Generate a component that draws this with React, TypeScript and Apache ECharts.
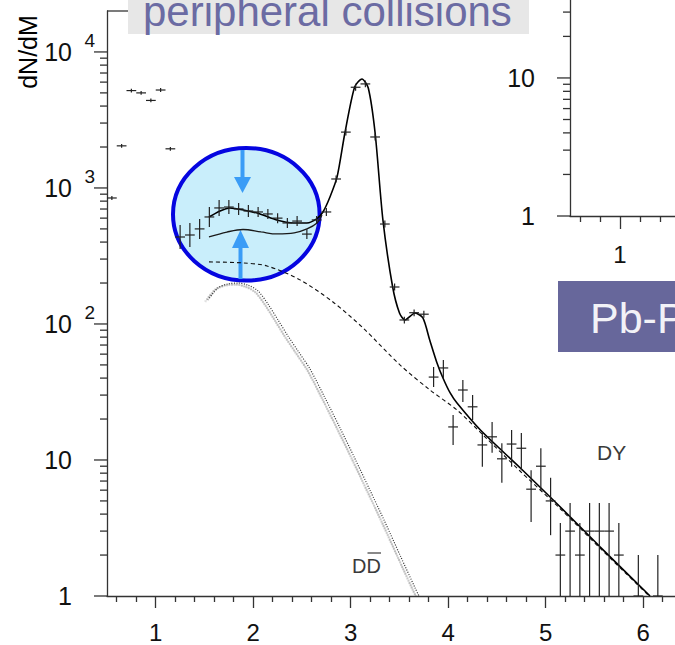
import React, { useEffect, useRef } from 'react';
import * as echarts from 'echarts';

// ---------- tick values ----------
const xMajorTicks = [1, 2, 3, 4, 5, 6];
const xMinorTicks = [0.6, 0.8, 1.2, 1.4, 1.6, 1.8, 2.2, 2.4, 2.6, 2.8, 3.2, 3.4, 3.6, 3.8, 4.2, 4.4, 4.6, 4.8, 5.2, 5.4, 5.6, 5.8, 6.2];
const yMajorTicks = [1, 10, 100, 1000, 10000];
const yMinorTicks = [2, 3, 4, 5, 6, 7, 8, 9, 20, 30, 40, 50, 60, 70, 80, 90, 200, 300, 400, 500, 600, 700, 800, 900, 2000, 3000, 4000, 5000, 6000, 7000, 8000, 9000];
const insetXMajor = [1];
const insetXMinor = [0.6, 0.8, 1.2, 1.4];
const insetYMajor = [1, 10];
const insetYMinor = [2, 3, 4, 5, 6, 7, 8, 9, 20, 30];

// ---------- measured spectrum (mass in GeV, counts with error limits) ----------
const massX = [0.55, 0.65, 0.75, 0.85, 0.95, 1.05, 1.15,
  1.25, 1.35, 1.45, 1.55, 1.65, 1.75, 1.85, 1.95, 2.05, 2.15, 2.25, 2.35, 2.45, 2.55, 2.65, 2.75,
  2.85, 2.95, 3.05, 3.15, 3.25, 3.35, 3.45, 3.55, 3.65, 3.75,
  3.85, 3.95, 4.05, 4.15, 4.25, 4.35, 4.45, 4.55, 4.65, 4.75, 4.85, 4.95, 5.05,
  5.15, 5.25, 5.35, 5.45, 5.55, 5.65, 5.75, 5.95, 6.15];
const counts = [844, 2040, 5200, 5000, 4400, 5250, 1940,
  436, 451, 500, 612, 713, 724, 701, 677, 666, 644, 600, 553, 571, 458, 582, 666,
  1164, 2574, 5500, 5820, 2370, 543, 187, 107, 121, 118,
  40.7, 47.5, 17.5, 32.7, 24.6, 12.9, 14.8, 10.2, 13.1, 12.2, 6.1, 9.0, 5.0,
  2.0, 3.0, 2.0, 3.0, 3.0, 3.0, 2.0, 1.0, 1.0];
const errLow = [815, 1975, 5030, 4840, 4260, 5080, 1880,
  356, 368, 422, 516, 623, 643, 633, 612, 612, 592, 551, 508, 525, 421, 544, 622,
  1098, 2428, 5190, 5490, 2236, 512, 176, 101, 114, 111,
  34.4, 40.1, 12.9, 26.7, 19.7, 8.9, 11.3, 6.8, 8.9, 8.4, 3.5, 6.0, 2.8,
  0.5, 0.5, 0.5, 0.5, 0.5, 0.5, 0.5, 0.5, 0.5];
const errHigh = [873, 2105, 5370, 5160, 4540, 5420, 2000,
  534, 552, 592, 725, 816, 815, 776, 749, 725, 700, 653, 602, 621, 498, 623, 713,
  1234, 2728, 5830, 6170, 2512, 576, 198, 113, 128, 125,
  48.3, 54.4, 21.4, 38.7, 30.0, 16.1, 19.0, 13.3, 16.6, 15.8, 8.4, 12.2, 7.4,
  3.44, 4.83, 3.44, 4.83, 4.83, 4.83, 3.44, 2.0, 2.0];
const binHalfWidth = 0.05;

// ---------- fitted curves ----------
const fitX = [1.546, 1.66, 1.76, 1.9, 2.07, 2.24, 2.41, 2.55, 2.65, 2.715, 2.787, 2.86, 2.94, 3.04, 3.115, 3.18, 3.25, 3.33, 3.43, 3.5, 3.556, 3.66, 3.74, 3.81, 3.885, 3.946, 4.02, 4.09, 4.33, 4.74, 5.15, 5.56, 6.07];
const fitY = [612, 678, 713, 689, 644, 582, 553, 553, 592, 666, 859, 1205, 2535, 5530, 6330, 5430, 2535, 582, 187, 120.5, 107, 120.5, 110.7, 76.3, 51.7, 40.1, 31.1, 26.2, 16.6, 8.73, 4.51, 2.29, 1.0];
const lowerFitX = [1.546, 1.73, 1.895, 2.08, 2.244, 2.42, 2.551, 2.654, 2.705];
const lowerFitY = [436, 474, 495, 475, 459, 467, 500, 553, 633];
const dyX = [1.546, 1.895, 2.141, 2.479, 2.818, 3.126, 3.505, 3.813, 4.09, 4.356, 4.736, 5.146, 5.556, 6.06];
const dyY = [286, 281, 267, 211, 145, 93.5, 50, 32.7, 23.3, 15.3, 8.3, 4.4, 2.25, 1.0];
const ddX = [1.536, 1.638, 1.741, 1.844, 1.946, 2.049, 2.151, 2.254, 2.356, 2.459, 2.582, 2.736, 2.89, 3.044, 3.197, 3.351, 3.505, 3.659, 3.70];
const ddY = [150, 184, 197, 200, 193, 175, 140, 107, 81.6, 63.3, 46.7, 28.6, 17.2, 10.2, 6.0, 3.5, 2.0, 1.15, 1.0];

const FONT = 'Liberation Sans';
const AX = { color: '#333', width: 1.3 };

function pairs(xs: number[], ys: number[]) {
  return xs.map((x, i) => [x, ys[i]]);
}

function tickSeries(values: number[], xAt: number, len: number, xi: number, yi: number) {
  return {
    type: 'custom',
    xAxisIndex: xi,
    yAxisIndex: yi,
    clip: false,
    silent: true,
    z: 5,
    data: values.map((v) => [xAt, v]),
    encode: { x: 0, y: 1 },
    renderItem: (params: any, api: any) => {
      const p = api.coord([api.value(0), api.value(1)]);
      return {
        type: 'line',
        shape: { x1: p[0] - len, y1: p[1], x2: p[0], y2: p[1] },
        style: { stroke: AX.color, lineWidth: AX.width },
      };
    },
  };
}

function buildOption(): any {
  const errData = massX.map((x, i) => [x, counts[i], errLow[i], errHigh[i]]);
  return {
    animation: false,
    textStyle: { fontFamily: FONT },
    grid: [
      { left: 107, top: 11, width: 568, height: 585 },
      { left: 570, top: 0, width: 105, height: 216 },
    ],
    xAxis: [
      {
        gridIndex: 0, type: 'value', min: 0.5, max: 6.326,
        axisLine: { show: true, onZero: false, lineStyle: AX },
        axisTick: { show: true, customValues: xMajorTicks, length: 12, lineStyle: AX },
        axisLabel: { customValues: xMajorTicks, margin: 24, fontSize: 24, color: '#111', fontFamily: FONT },
        splitLine: { show: false },
      },
      {
        gridIndex: 0, type: 'value', position: 'bottom', min: 0.5, max: 6.326,
        axisLine: { show: false, onZero: false },
        axisTick: { show: true, customValues: xMinorTicks, length: 6, lineStyle: AX },
        axisLabel: { show: false },
        splitLine: { show: false },
      },
      {
        gridIndex: 1, type: 'value', min: 0.5, max: 1.55,
        axisLine: { show: true, onZero: false, lineStyle: AX },
        axisTick: { show: true, customValues: insetXMajor, length: 13, lineStyle: AX },
        axisLabel: { customValues: insetXMajor, margin: 26, fontSize: 24, color: '#111', fontFamily: FONT },
        splitLine: { show: false },
      },
      {
        gridIndex: 1, type: 'value', position: 'bottom', min: 0.5, max: 1.55,
        axisLine: { show: false, onZero: false },
        axisTick: { show: true, customValues: insetXMinor, length: 6, lineStyle: AX },
        axisLabel: { show: false },
        splitLine: { show: false },
      },
    ],
    yAxis: [
      {
        gridIndex: 0, type: 'log', logBase: 10, min: 1, max: 20000,
        axisLine: { show: true, onZero: false, lineStyle: AX },
        axisTick: { show: false },
        axisLabel: {
          margin: 35, fontSize: 25, color: '#111', fontFamily: FONT, showMaxLabel: false,
          formatter: (v: number) => (Math.abs(v - 1) < 1e-9 ? '1' : '10'),
        },
        splitLine: { show: false },
      },
      {
        gridIndex: 0, type: 'log', logBase: 10, min: 1, max: 20000, position: 'left',
        axisLine: { show: false, onZero: false },
        axisTick: { show: false },
        axisLabel: {
          margin: 12, fontSize: 19, color: '#111', fontFamily: FONT, showMaxLabel: false,
          verticalAlign: 'bottom', lineHeight: 22,
          formatter: (v: number) => {
            const e = Math.round(Math.log10(v));
            return e >= 2 && Math.abs(Math.log10(v) - e) < 1e-6 ? String(e) : '';
          },
        },
        splitLine: { show: false },
      },
      {
        gridIndex: 1, type: 'log', logBase: 10, min: 1, max: 36.7,
        axisLine: { show: true, onZero: false, lineStyle: AX },
        axisTick: { show: false },
        axisLabel: {
          margin: 35, fontSize: 25, color: '#111', fontFamily: FONT, showMaxLabel: false,
          formatter: (v: number) => (Math.abs(v - 1) < 1e-9 ? '1' : '10'),
        },
        splitLine: { show: false },
      },
    ],
    series: [
      tickSeries(yMajorTicks, 0.5, 13, 0, 0),
      tickSeries(yMinorTicks, 0.5, 7, 0, 0),
      tickSeries(insetYMajor, 0.5, 13, 2, 2),
      tickSeries(insetYMinor, 0.5, 7, 2, 2),
      {
        name: 'DD', type: 'line', xAxisIndex: 0, yAxisIndex: 0, data: pairs(ddX, ddY),
        symbol: 'none', smooth: 0.3, z: 3,
        lineStyle: { color: '#333', width: 1.2, type: [1, 1.5], shadowColor: '#333', shadowBlur: 0, shadowOffsetX: -2.5, shadowOffsetY: 1.5 },
      },
      {
        name: 'DY', type: 'line', xAxisIndex: 0, yAxisIndex: 0, data: pairs(dyX, dyY),
        symbol: 'none', smooth: 0.3, z: 3,
        lineStyle: { color: '#111', width: 1.1, type: [4, 3] },
      },
      {
        name: 'fit', type: 'line', xAxisIndex: 0, yAxisIndex: 0, data: pairs(fitX, fitY),
        symbol: 'none', smooth: 0.25, z: 4,
        lineStyle: { color: '#000', width: 1.6 },
      },
      {
        name: 'lower', type: 'line', xAxisIndex: 0, yAxisIndex: 0, data: pairs(lowerFitX, lowerFitY),
        symbol: 'none', smooth: 0.35, z: 4,
        lineStyle: { color: '#1a1a1a', width: 1.3 },
      },
      {
        name: 'data', type: 'custom', xAxisIndex: 0, yAxisIndex: 0, clip: true, z: 6,
        data: errData, encode: { x: 0, y: 1 },
        renderItem: (params: any, api: any) => {
          const x = api.value(0), y = api.value(1), lo = api.value(2), hi = api.value(3);
          const c = api.coord([x, y]);
          const l = api.coord([x - binHalfWidth, y]);
          const r = api.coord([x + binHalfWidth, y]);
          const t = api.coord([x, hi]);
          const b = api.coord([x, lo]);
          const st = { stroke: '#222', lineWidth: 1.2 };
          return {
            type: 'group',
            children: [
              { type: 'line', shape: { x1: l[0], y1: c[1], x2: r[0], y2: c[1] }, style: st },
              { type: 'line', shape: { x1: c[0], y1: t[1], x2: c[0], y2: b[1] }, style: st },
            ],
          };
        },
      },
    ],
    graphic: [
      // highlight ellipse and arrows
      { type: 'ellipse', z: 1, shape: { cx: 246.3, cy: 214.3, rx: 73.3, ry: 66.3 }, style: { fill: '#c9eefb', stroke: '#0505e0', lineWidth: 4 } },
      { type: 'rect', z: 1, shape: { x: 240.5, y: 150, width: 4, height: 29 }, style: { fill: '#3a9cf6' } },
      { type: 'polygon', z: 1, shape: { points: [[234, 177], [251, 177], [242.5, 193]] }, style: { fill: '#3a9cf6' } },
      { type: 'rect', z: 1, shape: { x: 238.5, y: 246, width: 4, height: 33 }, style: { fill: '#3a9cf6' } },
      { type: 'polygon', z: 1, shape: { points: [[232, 248], [249, 248], [240.5, 230]] }, style: { fill: '#3a9cf6' } },
      // top frame stub
      { type: 'line', z: 2, shape: { x1: 107, y1: 11, x2: 130, y2: 11 }, style: { stroke: AX.color, lineWidth: AX.width } },
      // title box
      { type: 'rect', z: 20, shape: { x: 128, y: 0, width: 401, height: 34 }, style: { fill: '#e7e7e7' } },
      { type: 'text', z: 21, x: 143, y: 11, style: { text: 'peripheral collisions', fill: '#6b6ba3', fontSize: 42, fontFamily: FONT, align: 'left', verticalAlign: 'middle' } },
      // Pb-P box
      { type: 'rect', z: 20, shape: { x: 558, y: 281, width: 117, height: 71 }, style: { fill: '#67679b' } },
      { type: 'text', z: 21, x: 590, y: 318, style: { text: 'Pb-P', fill: '#f2f2f7', fontSize: 43, fontFamily: FONT, align: 'left', verticalAlign: 'middle' } },
      // axis title
      { type: 'text', z: 21, x: 28, y: 52, rotation: Math.PI / 2, style: { text: 'dN/dM', fill: '#000', fontSize: 25, fontFamily: FONT, align: 'center', verticalAlign: 'middle' } },
      // curve labels
      { type: 'text', z: 21, x: 597, y: 452, style: { text: 'DY', fill: '#3a3a3a', fontSize: 21, fontFamily: FONT, align: 'left', verticalAlign: 'middle' } },
      { type: 'text', z: 21, x: 352, y: 565, scaleX: 0.95, style: { text: 'DD', fill: '#3a3a3a', fontSize: 21, fontFamily: FONT, align: 'left', verticalAlign: 'middle' } },
      { type: 'line', z: 21, shape: { x1: 367.5, y1: 553, x2: 381, y2: 553 }, style: { stroke: '#3a3a3a', lineWidth: 1.2 } },
    ],
  };
}

export default function App() {
  const ref = useRef<HTMLDivElement>(null);
  useEffect(() => {
    document.body.style.margin = '0';
    const chart = echarts.init(ref.current!, null, { renderer: 'svg' });
    chart.setOption(buildOption());
    return () => chart.dispose();
  }, []);
  return <div ref={ref} style={{ width: 675, height: 645, background: '#fff' }} />;
}
